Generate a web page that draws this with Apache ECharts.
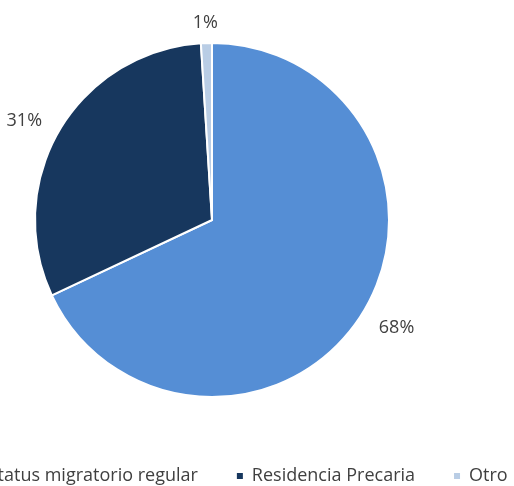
<!DOCTYPE html>
<html>
<head>
<meta charset="utf-8">
<script src="https://cdn.jsdelivr.net/npm/echarts@6/dist/echarts.min.js"></script>
<style>
html,body{margin:0;padding:0;background:#fff;}
#chart{width:514px;height:486px;}
</style>
</head>
<body>
<div id="chart"></div>
<script>
var categories = ['Estatus migratorio regular', 'Residencia Precaria', 'Otro'];
var values = [68, 31, 1];
var colors = ['#558ED5', '#17375E', '#B9CDE5'];

var chart = echarts.init(document.getElementById('chart'), null, {renderer: 'canvas'});
var data = categories.map(function (c, i) {
  return { name: c, value: values[i], itemStyle: { color: colors[i] } };
});
chart.setOption({
  animation: false,
  legend: {
    top: 462,
    left: -43,
    width: 800,
    icon: 'rect',
    itemWidth: 8,
    itemHeight: 8,
    itemGap: 37,
    textStyle: { fontFamily: 'Open Sans', fontSize: 18, color: '#404040', padding: [0, 0, 0, 3] },
    data: categories
  },
  series: [{
    type: 'pie',
    center: [212, 220],
    radius: [0, 177],
    startAngle: 90,
    clockwise: true,
    itemStyle: { borderColor: '#fff', borderWidth: 2 },
    label: {
      show: true,
      position: 'outside',
      formatter: '{c}%',
      fontFamily: 'Open Sans',
      fontSize: 18,
      color: '#404040',
      overflow: 'none'
    },
    labelLine: { show: false, length: 17, length2: 0 },
    labelLayout: function (p) {
      if (p.dataIndex === 0) return { dx: -2, dy: 4 };
      if (p.dataIndex === 1) return { dx: 2 };
      if (p.dataIndex === 2) return { dx: 17, dy: -3 };
      return {};
    },
    data: data
  }]
});
</script>
</body>
</html>
